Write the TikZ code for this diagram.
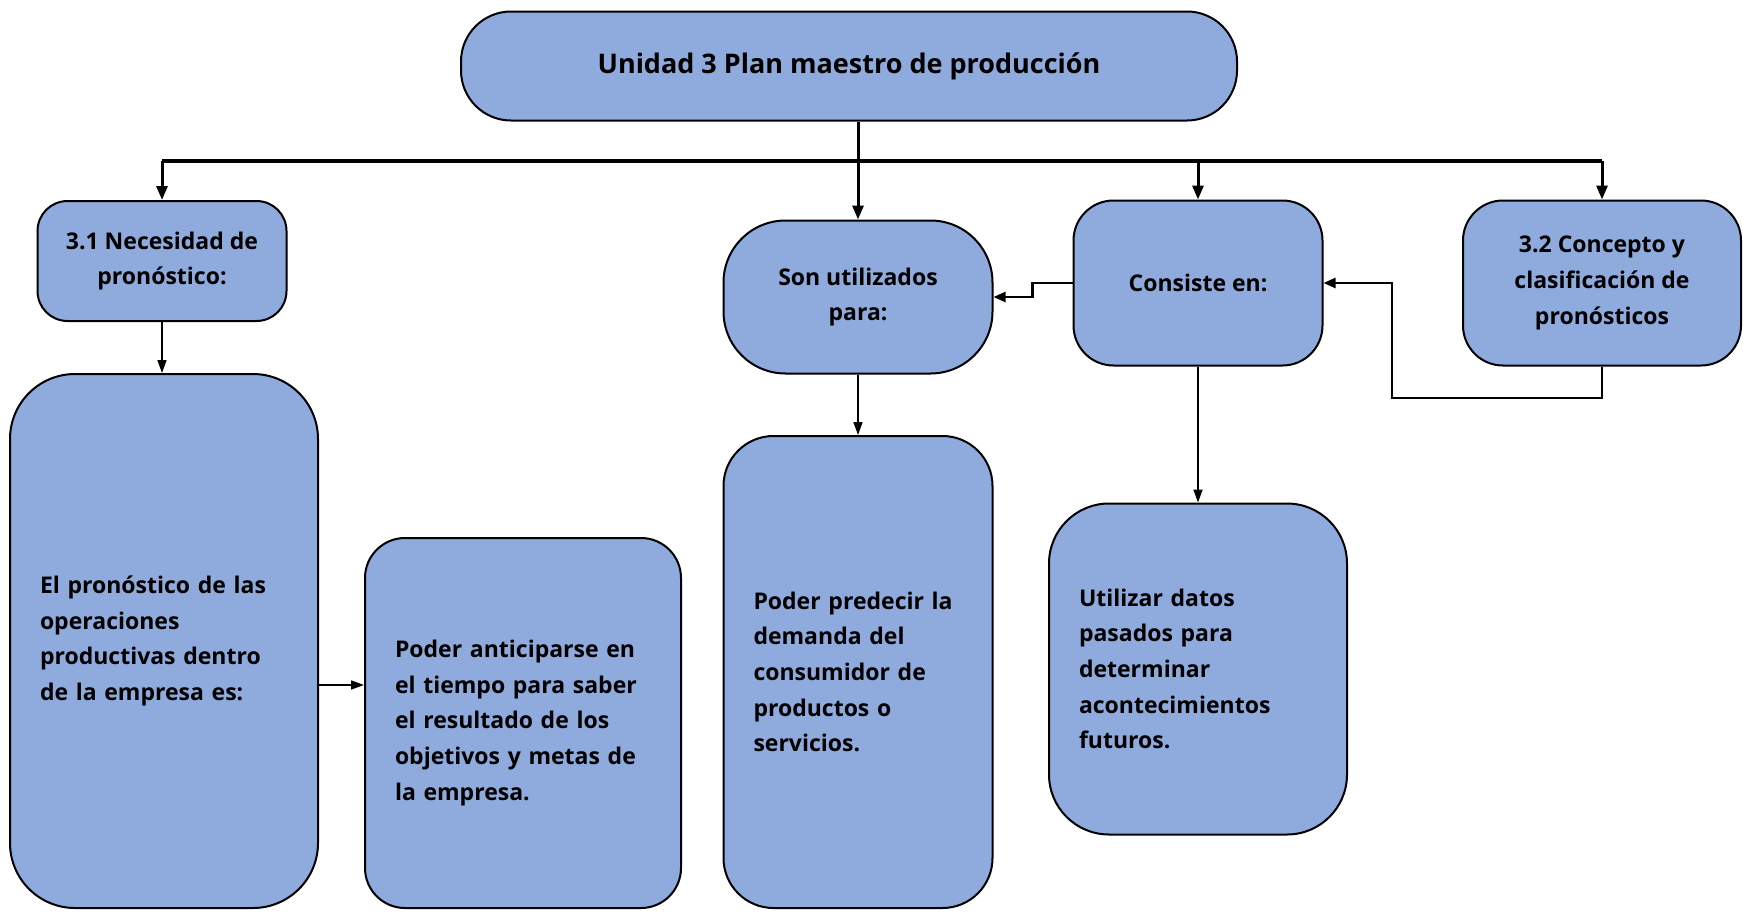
\documentclass[tikz,border=0pt]{standalone}
\usepackage{fontspec}
\setmainfont{Open Sans}
\usepackage[dvipsnames]{xcolor}
\usetikzlibrary{positioning,arrows.meta}
\definecolor{boxblue}{HTML}{8FAADC}
\tikzstyle{box}   = [draw=black, line width=2pt, fill=boxblue, inner sep=0pt, font=\bfseries\fontsize{23}{35.6}\selectfont]
\tikzstyle{arrow} = [line width=1.6pt, -{Triangle[length=13pt,width=9pt]}]

\begin{document}
\begin{tikzpicture}[x=1pt, y=-1pt,
			topbox/.style={box, align=center},
			textbox/.style={box, align=left, inner xsep=30pt},
			busarrow/.style={arrow, line width=3pt, -{Triangle[length=14pt,width=11pt]}},
			elbow/.style={arrow, line width=2.4pt, -{Triangle[length=12pt,width=10pt]}},
		]
		\useasboundingbox (0,0) rectangle (1743,916);

		\node[topbox, minimum width=776, minimum height=109, rounded corners=50pt,
			font=\bfseries\fontsize{27}{32}\selectfont] (title) at (849,66) {Unidad 3 Plan maestro de producción};

		\node[topbox, minimum width=249, minimum height=120, rounded corners=30pt] (nec) at (162,261) {3.1 Necesidad de\\pronóstico:};
		\node[topbox, minimum width=269, minimum height=153, rounded corners=62pt] (son) at (858,297) {Son utilizados\\para:};
		\node[topbox, minimum width=249, minimum height=165, rounded corners=40pt] (cons) at (1198,283) {Consiste en:};
		\node[topbox, minimum width=278, minimum height=165, rounded corners=40pt] (conc) at (1602,283) {3.2 Concepto y\\clasificación de\\pronósticos};

		\node[textbox, text width=248, minimum height=534, rounded corners=65pt] (oper) at (164,641) {El pronóstico de las\\operaciones\\productivas dentro\\de la empresa es:};
		\node[textbox, text width=256, minimum height=370, rounded corners=40pt] (antic) at (523,723) {Poder anticiparse en\\el tiempo para saber\\el resultado de los\\objetivos y metas de\\la empresa.};
		\node[textbox, text width=209, minimum height=472, rounded corners=50pt] (pred) at (858,672) {Poder predecir la\\demanda del\\consumidor de\\productos o\\servicios.};
		\node[textbox, text width=238, minimum height=331, rounded corners=60pt] (datos) at (1198,669) {Utilizar datos\\pasados para\\determinar\\acontecimientos\\futuros.};

		\coordinate (bus) at (0,161);
		\coordinate (mid) at (0,685);
		\coordinate (back) at (1392,398);

		\draw[line width=3pt] (title.south -| son.north) -- (son.north |- bus);
		\draw[line width=4.5pt] (nec.north |- bus) -- (conc.north |- bus);
		\draw[busarrow] (nec.north |- bus) -- (nec.north);
		\draw[busarrow] (son.north |- bus) -- (son.north);
		\draw[busarrow] (cons.north |- bus) -- (cons.north);
		\draw[busarrow] (conc.north |- bus) -- (conc.north);

		\draw[elbow] (cons.west) -- ++(-40,0) |- (son.east);
		\draw[elbow] (conc.south) |- (back) |- (cons.east);

		\draw[arrow] (nec.south) -- (nec.south |- oper.north);
		\draw[arrow] (oper.east |- mid) -- (antic.west |- mid);
		\draw[arrow] (son.south) -- (pred.north);
		\draw[arrow] (cons.south) -- (datos.north);
	\end{tikzpicture}
\end{document}
